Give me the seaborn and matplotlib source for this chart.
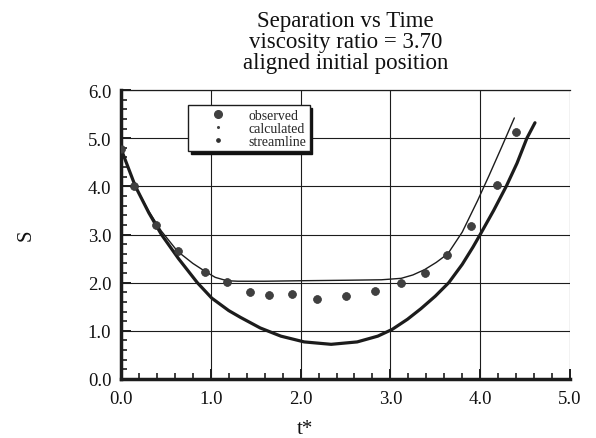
import matplotlib
matplotlib.use("Agg")
import matplotlib.pyplot as plt
from matplotlib.lines import Line2D
from matplotlib.ticker import MultipleLocator, FormatStrFormatter
import seaborn as sns
import pandas as pd

# Measured separation S against dimensionless time t*
t_obs = [0.0, 0.15, 0.39, 0.64, 0.94, 1.18, 1.44, 1.65, 1.90, 2.18, 2.50,
         2.83, 3.12, 3.38, 3.63, 3.90, 4.19, 4.40]
s_obs = [4.78, 4.00, 3.19, 2.65, 2.23, 2.02, 1.80, 1.74, 1.77, 1.66, 1.73,
         1.82, 1.99, 2.21, 2.58, 3.17, 4.03, 5.12]

# Calculated trajectory (thin curve)
t_calc = [0.0, 0.16, 0.31, 0.45, 0.63, 0.80, 0.94, 1.05, 1.18, 1.30, 1.6,
          2.0, 2.5, 2.9, 3.12, 3.25, 3.38, 3.51, 3.64, 3.80, 3.97, 4.10,
          4.24, 4.38]
s_calc = [4.78, 4.00, 3.48, 3.07, 2.65, 2.40, 2.23, 2.11, 2.04, 2.03, 2.03,
          2.04, 2.05, 2.06, 2.09, 2.16, 2.27, 2.42, 2.60, 3.05, 3.70, 4.23,
          4.82, 5.42]

# Streamline trajectory (thick curve)
t_stream = [0.0, 0.16, 0.31, 0.45, 0.64, 0.85, 1.01, 1.20, 1.33, 1.55, 1.78,
            2.04, 2.34, 2.63, 2.86, 3.02, 3.19, 3.34, 3.50, 3.65, 3.80, 3.92,
            4.00, 4.15, 4.29, 4.41, 4.52, 4.61]
s_stream = [4.78, 4.00, 3.45, 3.00, 2.50, 2.00, 1.68, 1.42, 1.28, 1.06, 0.89,
            0.77, 0.72, 0.77, 0.89, 1.03, 1.24, 1.46, 1.72, 2.00, 2.38, 2.74,
            3.00, 3.50, 4.00, 4.48, 5.00, 5.32]

title_lines = ["Separation vs Time", "viscosity ratio = 3.70",
               "aligned initial position"]
legend_labels = ["observed", "calculated", "streamline"]
x_label = "t*"
y_label = "S"

sns.set_theme(style="white")
plt.rcParams["font.family"] = ["Liberation Serif", "DejaVu Serif"]

fig = plt.figure(figsize=(5.96, 4.39), dpi=100)
ax = fig.add_axes([121 / 596, 1 - 380 / 439, 449 / 596, 289 / 439])

obs = pd.DataFrame({"t": t_obs, "S": s_obs})
calc = pd.DataFrame({"t": t_calc, "S": s_calc})
stream = pd.DataFrame({"t": t_stream, "S": s_stream})

ink = "#1c1c1c"
sns.lineplot(data=calc, x="t", y="S", sort=False, estimator=None,
             color=ink, linewidth=1.0, ax=ax, zorder=3)
sns.lineplot(data=stream, x="t", y="S", sort=False, estimator=None,
             color=ink, linewidth=2.3, ax=ax, zorder=3)
sns.scatterplot(data=obs, x="t", y="S", s=32, color="#404040",
                edgecolor="#303030", linewidth=0.5, ax=ax, zorder=5)

ax.set_xlim(0, 5)
ax.set_ylim(0, 6)
ax.xaxis.set_major_locator(MultipleLocator(1.0))
ax.yaxis.set_major_locator(MultipleLocator(1.0))
ax.xaxis.set_minor_locator(MultipleLocator(0.2))
ax.yaxis.set_minor_locator(MultipleLocator(0.2))
ax.xaxis.set_major_formatter(FormatStrFormatter("%.1f"))
ax.yaxis.set_major_formatter(FormatStrFormatter("%.1f"))

ax.grid(True, which="major", color=ink, linewidth=0.8)
ax.set_axisbelow(True)
for gl in ax.xaxis.get_gridlines()[-1:]:
    gl.set_visible(False)

ax.tick_params(which="major", direction="in", length=7, width=1.4,
               color=ink, labelsize=13.5, labelcolor="#111111")
ax.tick_params(axis="x", which="major", pad=8)
ax.tick_params(axis="y", which="major", pad=7)
ax.tick_params(which="minor", direction="in", length=4, width=1.2,
               color=ink)
ax.tick_params(bottom=True, left=True, top=False, right=False,
               which="both")

for side in ("left", "bottom"):
    ax.spines[side].set_linewidth(2.5)
    ax.spines[side].set_color(ink)
ax.spines["top"].set_linewidth(0.9)
ax.spines["top"].set_color(ink)
ax.spines["right"].set_visible(False)

ax.set_xlabel(x_label, fontsize=15, color="#111111")
ax.xaxis.set_label_coords(0.410, -0.140)
ax.set_ylabel(y_label, fontsize=15, color="#111111")
ax.yaxis.set_label_coords(-0.190, 0.50)

ax.set_title("\n".join(title_lines), fontsize=16.5, linespacing=0.98,
             pad=16, color="#111111")

handles = [
    Line2D([], [], linestyle="none", marker="o", markersize=5.5,
           color="#404040"),
    Line2D([], [], linestyle="none", marker="o", markersize=1.2,
           color="#404040"),
    Line2D([], [], linestyle="none", marker="o", markersize=2.4,
           color="#303030"),
]
leg = ax.legend(handles, legend_labels, loc="upper left",
                bbox_to_anchor=(0.149, 0.948), borderaxespad=0,
                prop={"family": ["Liberation Serif"], "size": 10},
                frameon=True, fancybox=False,
                shadow={"color": "#111111", "alpha": 1.0},
                handletextpad=0.2, labelspacing=0.0, borderpad=0.25,
                handlelength=3.9)
leg.get_frame().set_edgecolor(ink)
leg.get_frame().set_linewidth(1.0)
leg.get_frame().set_alpha(1.0)
leg.set_zorder(10)

fig.savefig("out.png", dpi=100, facecolor="white")
